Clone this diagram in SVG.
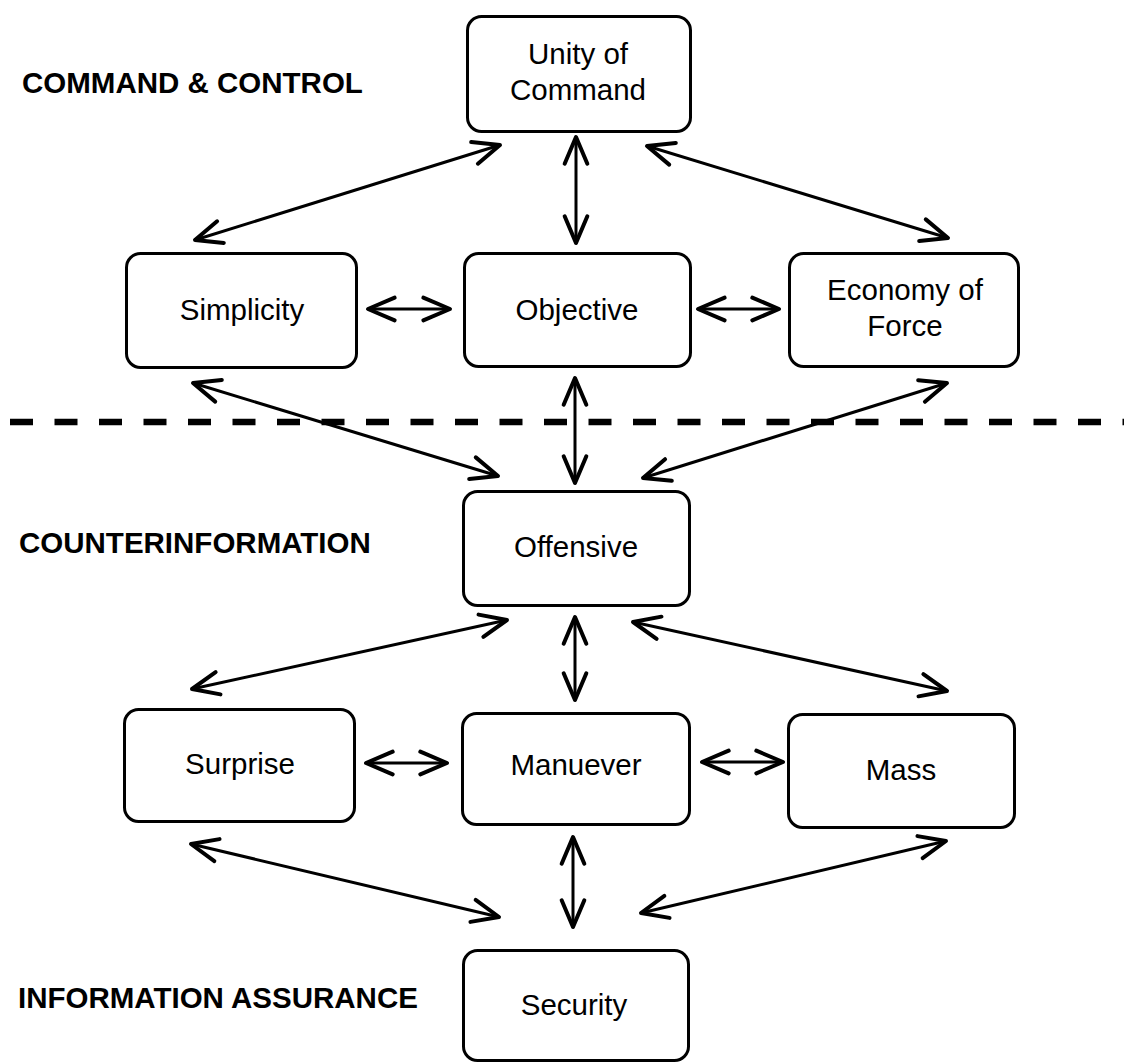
<svg xmlns="http://www.w3.org/2000/svg" width="1124" height="1064" viewBox="0 0 1124 1064">
<style>
.box{fill:#fff;stroke:#000;stroke-width:3}
.t{font-family:"Liberation Sans",Arial,sans-serif;font-size:29.5px;fill:#000;text-anchor:middle}
.lbl{font-family:"Liberation Sans",Arial,sans-serif;font-size:29.5px;font-weight:bold;fill:#000}
.c{stroke:#000;stroke-width:3;fill:none;marker-start:url(#ah);marker-end:url(#ah)}
.dash{stroke:#000;stroke-width:6.5;stroke-dasharray:23 21.5;fill:none}
</style>
<defs>
<marker id="ah" markerUnits="userSpaceOnUse" markerWidth="40" markerHeight="40" viewBox="-25 -15 30 30" refX="0" refY="0" orient="auto-start-reverse" overflow="visible">
<path d="M-20,-8.5 L0,0 L-20,8.5" fill="none" stroke="#000" stroke-width="3" stroke-linejoin="round" stroke-linecap="round"/>
</marker>
</defs>
<rect width="1124" height="1064" fill="#fff"/>
<g id="labels">
<text class="lbl" x="22" y="93">COMMAND &amp; CONTROL</text>
<text class="lbl" x="19" y="553">COUNTERINFORMATION</text>
<text class="lbl" x="18" y="1008">INFORMATION ASSURANCE</text>
</g>
<line id="divider" class="dash" x1="10" y1="422" x2="1124" y2="422"/>
<g id="connectors">
<line class="c" x1="500" y1="145" x2="195" y2="240"/>
<line class="c" x1="576" y1="137" x2="576" y2="243"/>
<line class="c" x1="647" y1="146" x2="948" y2="238"/>
<line class="c" x1="368" y1="309" x2="450" y2="309"/>
<line class="c" x1="698" y1="309" x2="779" y2="309"/>
<line class="c" x1="193" y1="383" x2="498" y2="476"/>
<line class="c" x1="575" y1="378" x2="575" y2="483"/>
<line class="c" x1="947" y1="383" x2="643" y2="478"/>
<line class="c" x1="507" y1="620" x2="192" y2="689"/>
<line class="c" x1="575" y1="617" x2="575" y2="700"/>
<line class="c" x1="633" y1="622" x2="947" y2="691"/>
<line class="c" x1="366" y1="763" x2="447" y2="763"/>
<line class="c" x1="702" y1="762" x2="783" y2="762"/>
<line class="c" x1="191" y1="844" x2="499" y2="917"/>
<line class="c" x1="573" y1="837" x2="573" y2="927"/>
<line class="c" x1="946" y1="841" x2="641" y2="913"/>
</g>
<g id="unity">
<rect class="box" x="467.5" y="16.5" width="223" height="115" rx="14"/>
<text class="t" x="578" y="64">Unity of</text>
<text class="t" x="578" y="100">Command</text>
</g>
<g id="simplicity">
<rect class="box" x="126.5" y="253.5" width="230" height="114" rx="14"/>
<text class="t" x="242" y="320">Simplicity</text>
</g>
<g id="objective">
<rect class="box" x="464.5" y="253.5" width="226" height="113" rx="14"/>
<text class="t" x="577" y="320">Objective</text>
</g>
<g id="economy">
<rect class="box" x="789.5" y="253.5" width="229" height="113" rx="14"/>
<text class="t" x="905" y="300">Economy of</text>
<text class="t" x="905" y="336">Force</text>
</g>
<g id="offensive">
<rect class="box" x="463.5" y="491.5" width="226" height="114" rx="14"/>
<text class="t" x="576" y="557">Offensive</text>
</g>
<g id="surprise">
<rect class="box" x="124.5" y="709.5" width="230" height="112" rx="14"/>
<text class="t" x="240" y="774">Surprise</text>
</g>
<g id="manuever">
<rect class="box" x="462.5" y="713.5" width="227" height="111" rx="14"/>
<text class="t" x="576" y="775">Manuever</text>
</g>
<g id="mass">
<rect class="box" x="788.5" y="714.5" width="226" height="113" rx="14"/>
<text class="t" x="901" y="780">Mass</text>
</g>
<g id="security">
<rect class="box" x="463.5" y="950.5" width="225" height="110" rx="14"/>
<text class="t" x="574" y="1015">Security</text>
</g>
</svg>
